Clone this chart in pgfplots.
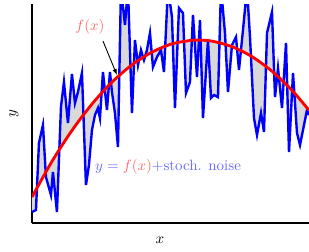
\documentclass[border=0pt]{standalone}
\usepackage{pgfplots}
\pgfplotsset{compat=1.18}
\usepgfplotslibrary{fillbetween}
\usetikzlibrary{calc,arrows.meta}
\begin{document}
\begin{tikzpicture}
\begin{axis}[
  scale only axis,
  width=184.7bp, height=146bp,
  xmin=0, xmax=277, ymin=0, ymax=219,
  axis x line*=bottom, axis y line*=left,
  axis line style={line width=1pt, black},
  ticks=none,
  set layers,
  clip=true,
  xlabel={$x$}, ylabel={$y$},
  xlabel style={at={(axis description cs:0.462,0)}, anchor=center, yshift=-11.3bp},
  ylabel style={at={(axis description cs:0,0.502)}, anchor=center, yshift=12bp},
]
\addplot[blue, line width=1.6pt, name path=noise] coordinates {
(0,11) (4,13) (7,80) (11,98) (14,46) (19,28) (21,51) (25,11) (29,116) (32,141)
(36,100) (40,149) (43,120) (46,131) (50,150) (54,38) (57,58) (60,93) (63,108) (66,115)
(68,105) (71,151) (75,113) (78,151) (80,131) (83,110) (86,76) (89,235) (93,198) (96,235)
(100,110) (103,183) (106,158) (109,173) (112,163) (115,173) (118,190) (121,156) (125,166) (129,173)
(132,151) (136,235) (140,206) (143,115) (147,215) (151,210) (154,130) (158,141) (161,208) (165,146)
(168,203) (171,105) (176,183) (179,125) (182,128) (186,126) (189,235) (193,190) (196,131) (200,178)
(204,186) (207,153) (211,193) (215,235) (218,186) (222,105) (225,88) (229,110) (232,91) (235,190)
(240,211) (243,126) (246,155) (250,115) (254,180) (257,71) (261,150) (265,90) (268,78) (271,93)
(275,113) (277,108)
};
\addplot[red, line width=1.9pt, smooth, name path=f] coordinates {
(0,26.0) (20,61.6) (40,92.6) (60,119.0) (80,140.9) (100,158.2) (120,170.9) (140,179.2)
(160,182.8) (166,183) (180,181.9) (200,176.4) (220,166.4) (240,151.8) (260,132.7) (277,112.8)
};
\addplot[gray!30] fill between[of=noise and f];
\node[red!60, anchor=center] at (axis cs:58,196) {$f(x)$};
\draw[-{Latex[length=4pt]}, black, line width=0.6pt] (axis cs:71,182) -- (axis cs:85,148);
\node[blue!60, anchor=center] at (axis cs:136,56) {$y = {\color{red!60}f(x)}$+stoch. noise};
\end{axis}
\pgfresetboundingbox
\path[use as bounding box] ($(current axis.south west)+(-21.3bp,-18.7bp)$) rectangle ($(current axis.north east)+(0,2.7bp)$);
\end{tikzpicture}
\end{document}
